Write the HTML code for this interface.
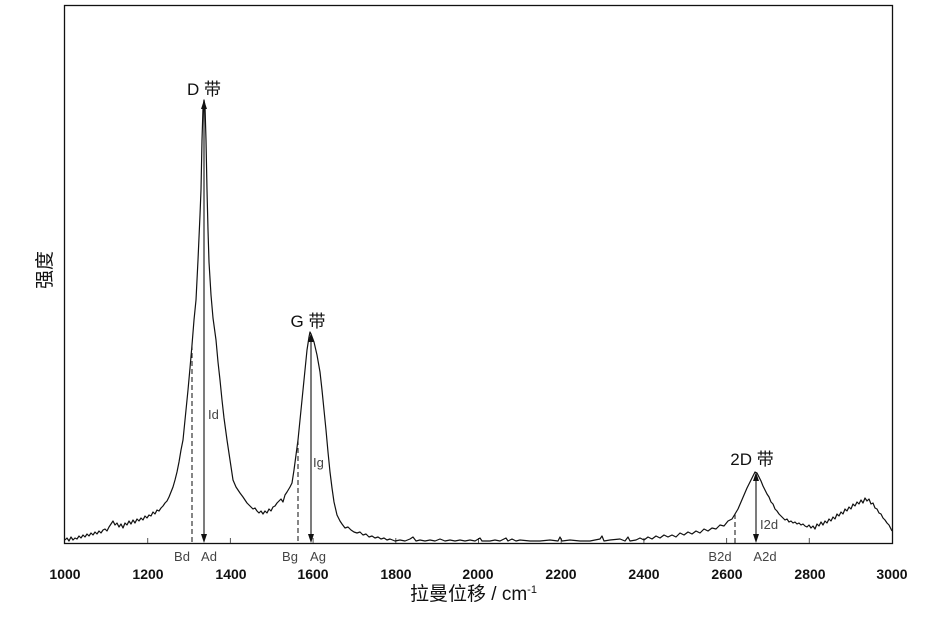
<!DOCTYPE html>
<html>
<head>
<meta charset="utf-8">
<style>
html,body{margin:0;padding:0;background:#fff;}
svg{display:block;}
text{font-family:"Liberation Sans","Noto Sans CJK SC",sans-serif;}
</style>
</head>
<body>
<svg width="927" height="634" viewBox="0 0 927 634" xmlns="http://www.w3.org/2000/svg">
<rect x="0" y="0" width="927" height="634" fill="#fff"/>
<!-- frame -->
<rect x="64.5" y="5.5" width="828" height="538" fill="none" stroke="#111" stroke-width="1.3"/>
<!-- bottom ticks -->
<g stroke="#555" stroke-width="1">
<line x1="147.7" y1="543" x2="147.7" y2="538"/>
<line x1="230.4" y1="543" x2="230.4" y2="538"/>
<line x1="313.1" y1="543" x2="313.1" y2="538"/>
<line x1="395.8" y1="543" x2="395.8" y2="538"/>
<line x1="478.5" y1="543" x2="478.5" y2="538"/>
<line x1="561.2" y1="543" x2="561.2" y2="538"/>
<line x1="643.9" y1="543" x2="643.9" y2="538"/>
<line x1="726.6" y1="543" x2="726.6" y2="538"/>
<line x1="809.3" y1="543" x2="809.3" y2="538"/>
</g>
<!-- spectrum -->
<path fill="none" stroke="#111" stroke-width="1.2" stroke-linejoin="round" d="M65,540 L67,538 69,541 71,537 73,540 75,538 77,539 79,536 81,538 83,535 85,537 87,534 89,536 91,533 93,535 95,532 97,534 99,531 101,533 103,530 105,529 107,531 109,527 111,524 113,521 115,525 117,523 119,527 121,524 123,528 125,523 127,525 129,521 131,524 133,520 135,523 137,519 139,521 141,518 143,520 145,516 147,518 149,515 151,516 153,512 155,514 157,510 159,511 161,508 163,506 165,503 167,501 169,497 171,492 173,487 175,480 177,472 179,462 181,450 183,440 185,420 187,400 188,390 190,368 192,345 194,320 196,300 198,260 200,215 201,190 202,140 203,108 204,100 205,106 206,140 207,190 208,230 209,262 211,295 213,318 216,340 218,362 220,380 222,400 224,418 227,440 230,460 233,480 236,487 240,493 243,497 247,503 250,506 253,509 255,508 257,511 259,513 261,511 263,514 265,511 267,513 269,509 271,511 273,507 275,506 277,503 279,501 281,499 283,502 285,495 287,492 290,487 292,483 294,470 296,455 298,440 300,420 302,400 304,380 307,350 309,337 310,332 311,334 314,342 317,355 320,372 322,390 324,410 326,430 328,452 330,472 332,488 334,502 337,515 340,521 342,524 345,528 348,527 351,530 354,532 357,533 360,532 363,535 366,534 369,537 372,536 375,538 378,537 381,539 384,538 387,540 390,539 395,541 400,540 405,541 410,539 413,537 416,541 420,540 425,541 430,540 435,541 440,539 445,541 450,540 455,541 460,540 465,541 470,540 475,541 480,538 482,541 490,541 495,540 500,541 506,538 508,541 512,539 516,541 520,540 530,541 540,541 550,540 558,541 560,537 562,541 570,540 580,541 590,541 600,539 602,536 604,541 610,540 620,539 625,541 628,537 630,541 636,540 640,538 644,540 648,537 652,539 656,536 660,538 664,535 668,537 672,535 676,537 680,533 684,535 688,532 692,534 696,531 700,533 704,529 708,531 712,528 716,529 720,525 724,526 728,521 732,519 735,514 738,509 741,502 744,495 747,488 750,482 753,476 755,472 757,473 759,477 761,481 763,486 765,490 767,494 769,497 771,502 773,504 775,509 777,511 779,514 781,516 783,518 785,520 787,519 789,522 791,521 793,523 795,522 797,524 799,523 801,525 803,524 805,526 807,527 809,525 811,528 813,526 815,529 817,524 819,526 821,522 823,525 825,521 827,523 829,519 831,521 833,517 835,519 837,514 839,516 841,512 843,514 845,509 847,511 849,507 851,509 853,504 855,506 857,502 859,504 861,500 863,503 865,498 867,501 869,499 871,504 873,503 875,508 877,509 879,513 881,514 883,518 885,520 887,523 889,525 891,529 892,531"/>
<!-- dashed baselines -->
<g stroke="#222" stroke-width="1.1" stroke-dasharray="5,3">
<line x1="192" y1="345" x2="192" y2="543"/>
<line x1="298" y1="440" x2="298" y2="543"/>
<line x1="735" y1="514" x2="735" y2="543"/>
</g>
<!-- arrows -->
<g stroke="#111" stroke-width="1.1">
<line x1="204" y1="106" x2="204" y2="537"/>
<line x1="311" y1="339" x2="311" y2="537"/>
<line x1="756" y1="478" x2="756" y2="537"/>
</g>
<g fill="#111">
<polygon points="204,100 201,109 207,109"/>
<polygon points="204,543 201,534 207,534"/>
<polygon points="311,333 308,342 314,342"/>
<polygon points="311,543 308,534 314,534"/>
<polygon points="756,472 753,481 759,481"/>
<polygon points="756,543 753,534 759,534"/>
</g>
<!-- band labels -->
<g font-size="17" fill="#111" text-anchor="middle">
<text x="204" y="95">D 带</text>
<text x="308" y="327">G 带</text>
<text x="752" y="465">2D 带</text>
</g>
<!-- intensity labels -->
<g font-size="13" fill="#444">
<text x="208" y="419">Id</text>
<text x="313" y="467">Ig</text>
<text x="760" y="529">I2d</text>
</g>
<!-- bottom labels -->
<g font-size="13" fill="#444" text-anchor="middle">
<text x="182" y="561">Bd</text>
<text x="209" y="561">Ad</text>
<text x="290" y="561">Bg</text>
<text x="318" y="561">Ag</text>
<text x="720" y="561">B2d</text>
<text x="765" y="561">A2d</text>
</g>
<!-- tick labels -->
<g font-size="14" font-weight="bold" fill="#111" text-anchor="middle">
<text x="65" y="579">1000</text>
<text x="148" y="579">1200</text>
<text x="231" y="579">1400</text>
<text x="313" y="579">1600</text>
<text x="396" y="579">1800</text>
<text x="478" y="579">2000</text>
<text x="561" y="579">2200</text>
<text x="644" y="579">2400</text>
<text x="727" y="579">2600</text>
<text x="810" y="579">2800</text>
<text x="892" y="579">3000</text>
</g>
<!-- axis labels -->
<text x="410" y="600" font-size="19" fill="#111">拉曼位移 / cm<tspan font-size="11" dy="-7">-1</tspan></text>
<text x="0" y="0" font-size="19" fill="#111" text-anchor="middle" transform="translate(51,270) rotate(-90)">强度</text>
</svg>
</body>
</html>
